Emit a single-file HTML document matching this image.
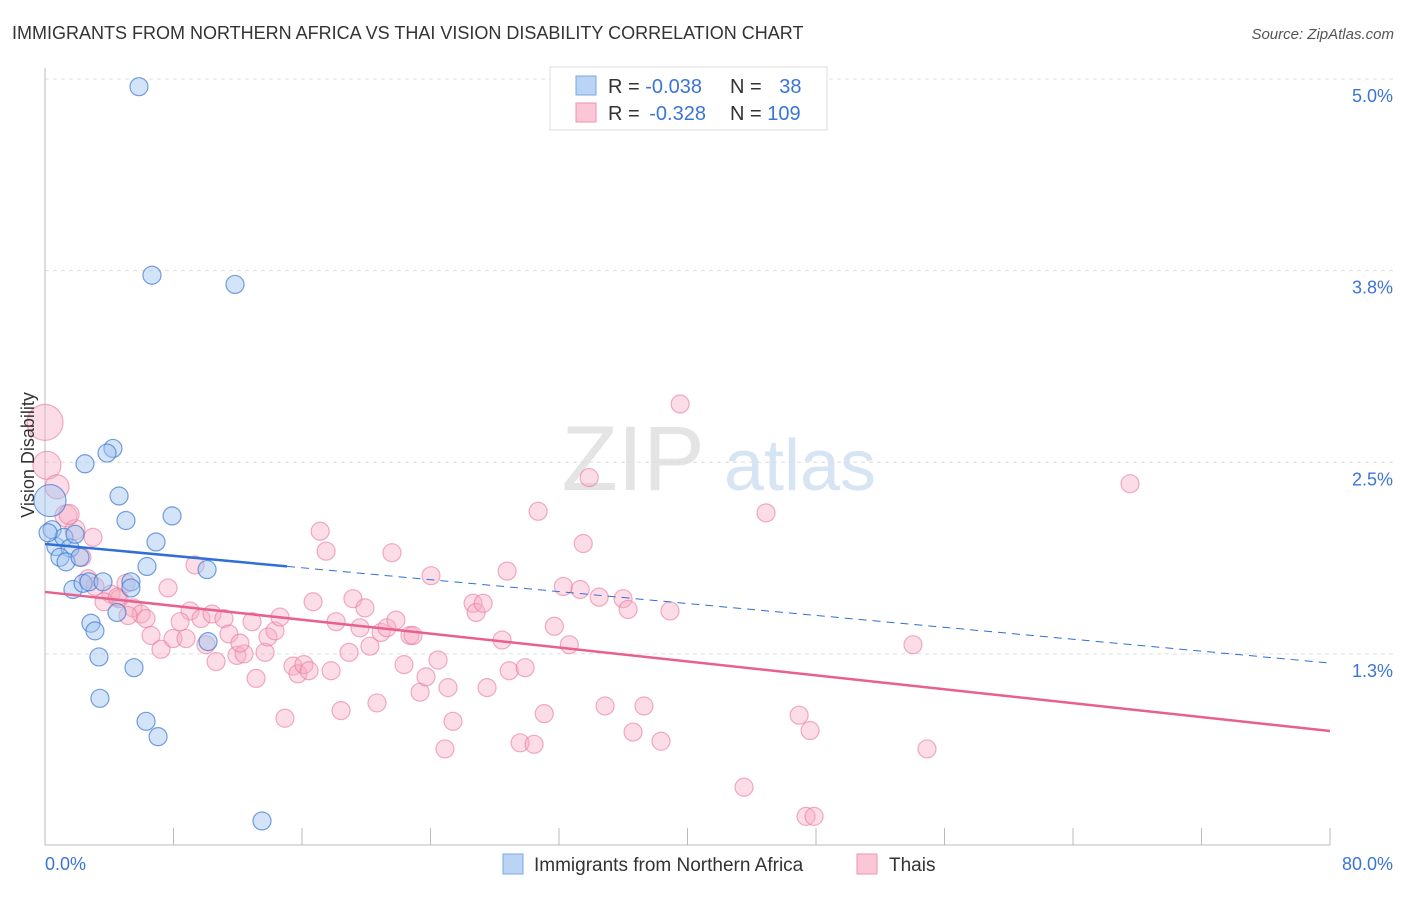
<!DOCTYPE html>
<html><head><meta charset="utf-8"><style>
body{margin:0;background:#fff;font-family:"Liberation Sans",sans-serif}
svg text{font-family:"Liberation Sans",sans-serif}
</style></head><body>
<svg id="chart" width="1406" height="892" xmlns="http://www.w3.org/2000/svg">
<text x="12" y="39" font-size="18" fill="#333">IMMIGRANTS FROM NORTHERN AFRICA VS THAI VISION DISABILITY CORRELATION CHART</text>
<text x="1394" y="39" font-size="15" fill="#555" text-anchor="end" font-style="italic">Source: ZipAtlas.com</text>
<g><text x="633" y="490" font-size="92" fill="#e4e4e4" font-family="Liberation Serif" text-anchor="middle">ZIP</text><text x="800" y="490" font-size="72" fill="#d6e4f4" text-anchor="middle">atlas</text></g>
<g id="grid"></g>
<g id="axes"></g>
<g id="pts"></g>
<g id="lines"></g>
<text transform="translate(34,455) rotate(-90)" font-size="18" fill="#333" text-anchor="middle">Vision Disability</text>
<g>
<rect x="550" y="67" width="277" height="63" fill="#fff" stroke="#ddd"/>
<rect x="576" y="76" width="20" height="19" fill="#b9d4f5" stroke="#7aa8e0"/>
<rect x="576" y="103" width="20" height="19" fill="#fbc6d5" stroke="#ef93b0"/>
<text x="608" y="93" font-size="20" fill="#333">R = <tspan fill="#3a75d6">-0.038</tspan></text>
<text x="730" y="93" font-size="20" fill="#333">N = <tspan fill="#3a75d6" dx="12">38</tspan></text>
<text x="608" y="120" font-size="20" fill="#333">R = <tspan fill="#3a75d6" dx="4">-0.328</tspan></text>
<text x="730" y="120" font-size="20" fill="#333">N = <tspan fill="#3a75d6">109</tspan></text>
</g>
<g>
<rect x="503" y="854" width="20" height="20" fill="#b9d4f5" stroke="#7aa8e0"/>
<text x="534" y="871" font-size="19" fill="#333">Immigrants from Northern Africa</text>
<rect x="857" y="854" width="20" height="20" fill="#fbc6d5" stroke="#ef93b0"/>
<text x="889" y="871" font-size="19" fill="#333">Thais</text>
</g>
</svg>
<script>
const yTicks=[1.25,2.5,3.75,5.0];
const yTickLabels=["1.3%","2.5%","3.8%","5.0%"];
const xTickLabels=["0.0%","80.0%"];
const blueX=[5.85,6.66,11.83,4.23,3.86,2.49,4.61,7.91,5.04,0.31,0.44,0.68,1.18,1.56,0.93,1.31,1.87,2.18,6.91,6.35,10.09,1.74,2.37,2.74,3.61,5.35,5.35,4.48,2.86,3.11,10.15,3.36,5.54,3.42,6.29,7.04,13.51,0.19];
const blueY=[4.95,3.72,3.66,2.59,2.56,2.49,2.28,2.15,2.12,2.25,2.06,1.95,2.01,1.94,1.88,1.85,2.03,1.88,1.98,1.82,1.80,1.67,1.71,1.72,1.72,1.72,1.68,1.52,1.45,1.40,1.33,1.23,1.16,0.96,0.81,0.71,0.16,2.04];
const blueR=[9,9,9,9,9,9,9,9,9,16,9,9,9,9,9,9,9,9,9,9,9,9,9,9,9,9,9,9,9,9,9,9,9,9,9,9,9,9];
const pinkX=[0,0.12,0.75,1.31,1.87,2.3,2.99,2.68,3.11,4.11,4.61,3.67,5.04,5.48,5.98,5.17,6.29,7.66,9.34,6.6,7.22,7.97,8.78,9.03,8.41,9.71,10.4,10.02,10.65,11.14,11.45,11.95,12.39,12.14,12.89,13.14,13.7,13.88,14.32,14.63,14.94,15.44,15.75,16.12,16.44,16.69,17.13,17.5,17.81,18.12,18.43,18.93,19.17,19.61,19.92,20.23,20.67,20.92,21.29,21.6,21.85,22.35,22.72,22.91,23.35,23.72,24.03,24.47,24.9,25.09,25.4,26.65,26.84,27.28,27.52,28.46,28.77,28.9,29.58,29.89,30.45,30.7,31.08,31.71,32.27,32.64,33.32,33.51,33.88,34.5,34.87,35.99,36.3,36.61,37.29,38.35,38.91,39.54,43.52,44.89,46.95,47.63,47.38,47.88,54.04,54.91,67.55,1.5,4.5];
const pinkY=[2.76,2.48,2.34,2.15,2.06,1.88,2.01,1.74,1.69,1.64,1.61,1.59,1.71,1.55,1.51,1.50,1.48,1.68,1.83,1.37,1.28,1.35,1.35,1.53,1.46,1.48,1.51,1.31,1.20,1.48,1.38,1.24,1.25,1.32,1.46,1.09,1.26,1.36,1.40,1.49,0.83,1.17,1.12,1.18,1.14,1.59,2.05,1.92,1.14,1.46,0.88,1.26,1.61,1.42,1.55,1.30,0.93,1.39,1.42,1.91,1.47,1.18,1.37,1.37,1.00,1.10,1.76,1.21,0.63,1.03,0.81,1.58,1.52,1.58,1.03,1.34,1.79,1.14,0.67,1.16,0.66,2.18,0.86,1.43,1.69,1.31,1.67,1.97,2.40,1.62,0.91,1.61,1.54,0.74,0.91,0.68,1.53,2.88,0.38,2.17,0.85,0.75,0.19,0.19,1.31,0.63,2.36,2.16,1.62];
const pinkR=[18,14,12,11,10,9,9,9,9,9,9,9,9,9,9,9,9,9,9,9,9,9,9,9,9,9,9,9,9,9,9,9,9,9,9,9,9,9,9,9,9,9,9,9,9,9,9,9,9,9,9,9,9,9,9,9,9,9,9,9,9,9,9,9,9,9,9,9,9,9,9,9,9,9,9,9,9,9,9,9,9,9,9,9,9,9,9,9,9,9,9,9,9,9,9,9,9,9,9,9,9,9,9,9,9,9,9,10,9];
const blueTrend=[1.967,1.19], blueSolidEnd=15.07;
const pinkTrend=[1.654,0.747];
const X=v=>45+v/80*1285, Y=v=>845.5-v/5*766.5;
const NS="http://www.w3.org/2000/svg";
function mk(t,a,p){const e=document.createElementNS(NS,t);for(const k in a)e.setAttribute(k,a[k]);p.appendChild(e);return e;}
const grid=document.getElementById('grid'),axes=document.getElementById('axes'),pts=document.getElementById('pts'),lines=document.getElementById('lines');
yTicks.forEach((t,i)=>{const l=mk('line',{x1:45,x2:1394,y1:Y(t),y2:Y(t),stroke:'#ddd','stroke-dasharray':'4,4'},grid);


const tx=mk('text',{x:1393,y:Y(t)+23,'font-size':18,fill:'#3a75d6','text-anchor':'end'},axes);tx.textContent=yTickLabels[i];

});
mk('line',{x1:45,x2:45,y1:68,y2:845,stroke:'#bbb'},axes);
mk('line',{x1:45,x2:1330,y1:845,y2:845,stroke:'#bbb'},axes);
for(let i=0;i<=10;i++){const t=mk('line',{x1:X(i*8),x2:X(i*8),y1:828,y2:845,stroke:'#bbb'},axes);

}
[[0,'start',45],[80,'end',1393]].forEach((d,i)=>{const t=mk('text',{x:d[2],y:870,'font-size':18,fill:'#3a75d6','text-anchor':d[1]},axes);t.textContent=xTickLabels[i];

});
pinkX.forEach((v,i)=>{const c=mk('circle',{cx:X(v),cy:Y(pinkY[i]),r:pinkR[i],fill:'rgba(248,170,195,0.4)',stroke:'rgba(232,120,155,0.6)','stroke-width':1.2},pts);

});
blueX.forEach((v,i)=>{const c=mk('circle',{cx:X(v),cy:Y(blueY[i]),r:blueR[i],fill:'rgba(160,195,240,0.45)',stroke:'rgba(60,120,210,0.7)','stroke-width':1.2},pts);

});
const by=x=>blueTrend[0]+(blueTrend[1]-blueTrend[0])*x/80;
let l1=mk('line',{x1:X(0),y1:Y(by(0)),x2:X(blueSolidEnd),y2:Y(by(blueSolidEnd)),stroke:'#2f6fd6','stroke-width':2.5},lines);


let l2=mk('line',{x1:X(blueSolidEnd),y1:Y(by(blueSolidEnd)),x2:X(80),y2:Y(by(80)),stroke:'#2f6fd6','stroke-width':1,'stroke-dasharray':'8,6'},lines);


let l3=mk('line',{x1:X(0),y1:Y(pinkTrend[0]),x2:X(80),y2:Y(pinkTrend[1]),stroke:'#e8608e','stroke-width':2.5},lines);


</script>
</body></html>
